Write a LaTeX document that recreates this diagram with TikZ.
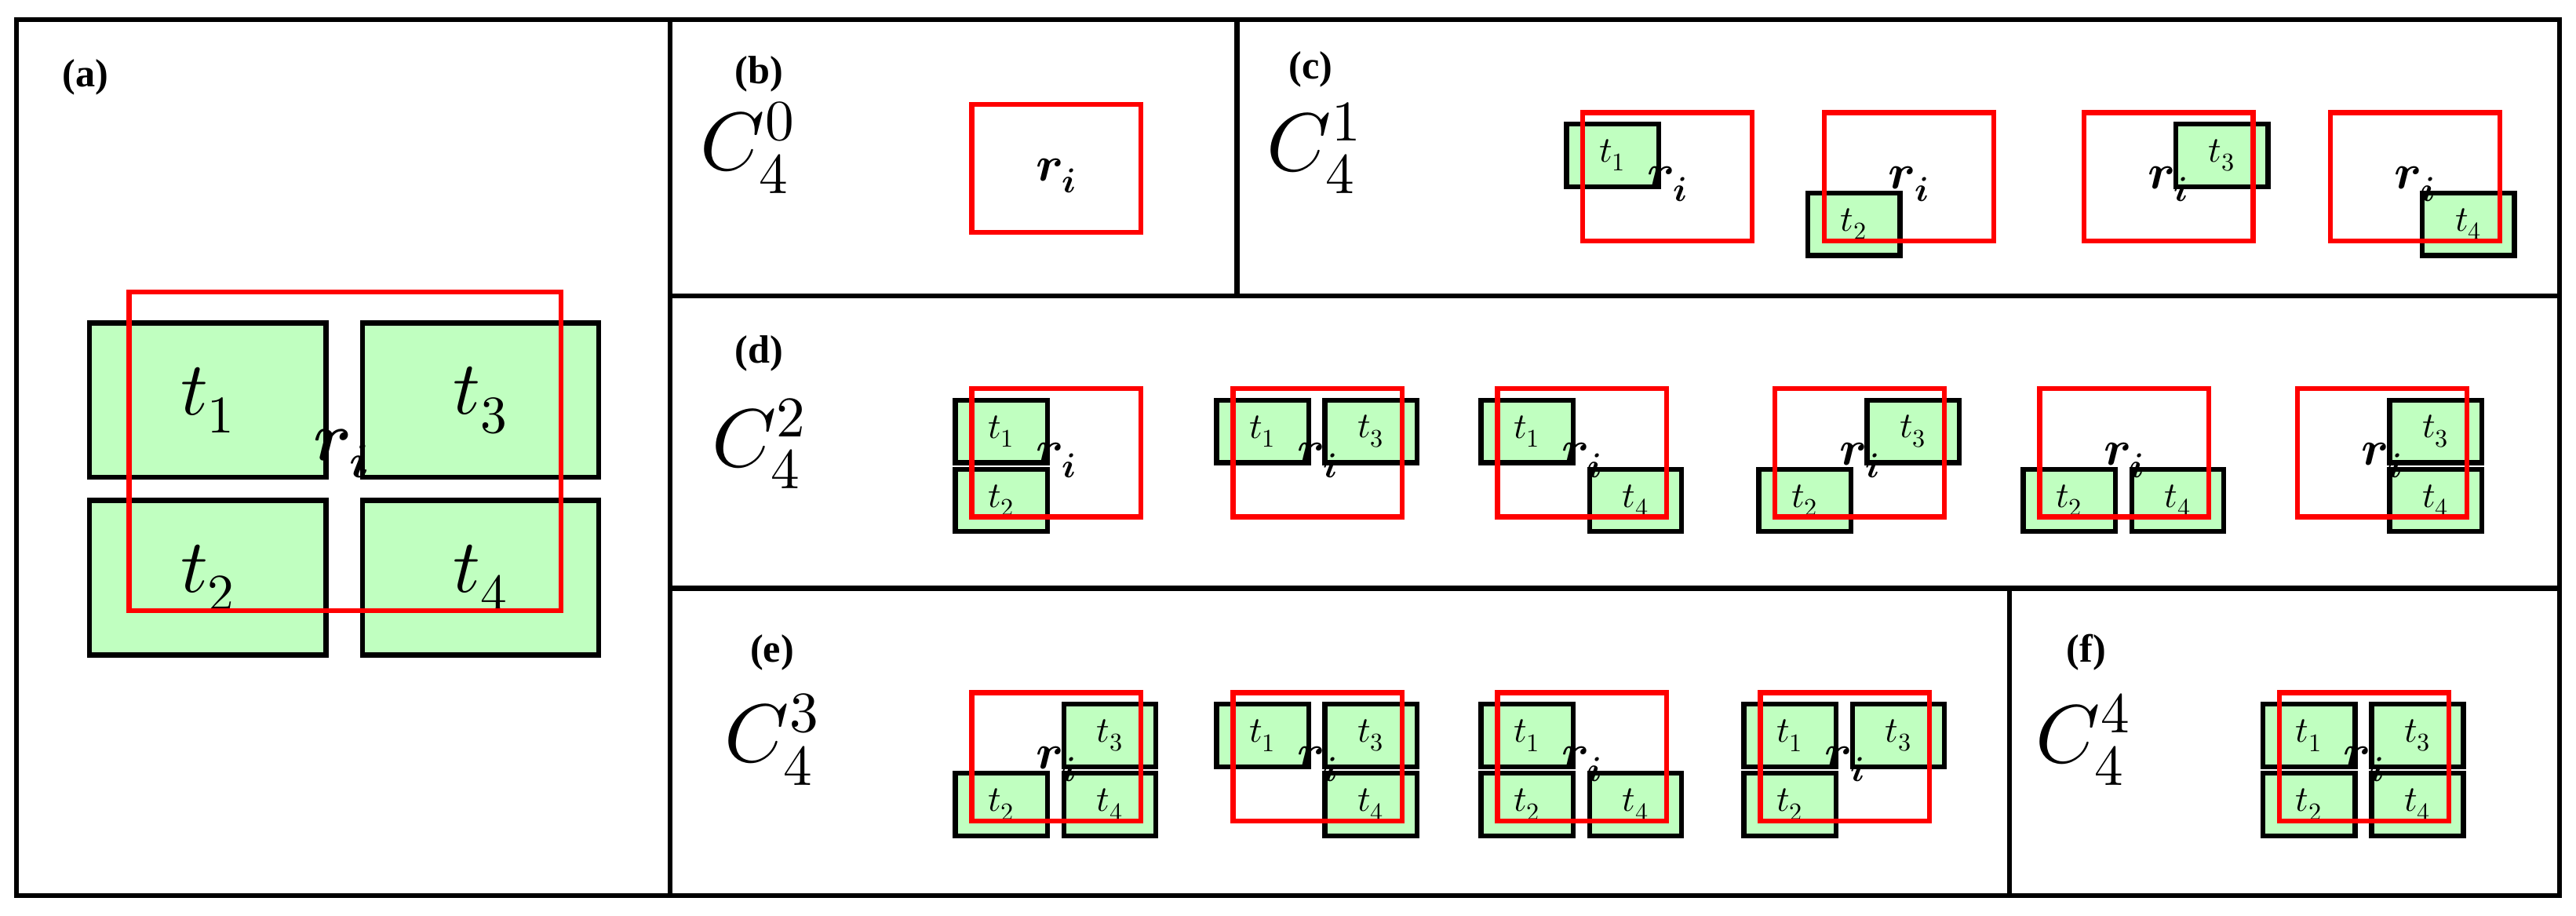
\documentclass[tikz,border=0pt]{standalone}
\usepackage{fontspec}
\usepackage{unicode-math}
\setmainfont{Liberation Serif}
\setmathfont{Latin Modern Math}
\begin{document}
\begin{tikzpicture}[x=1pt,y=-1pt,
  frame/.style={line width=3pt},
  tile/.style={draw=black,line width=3pt,fill={rgb,255:red,192;green,255;blue,192},anchor=north west,minimum width=56pt,minimum height=38pt,inner sep=0pt,font=\fontsize{22}{26}\selectfont},
  bigtile/.style={tile,minimum width=144pt,minimum height=94pt,font=\fontsize{46}{52}\selectfont},
  red/.style={draw={rgb,255:red,255;green,0;blue,0},line width=3pt,anchor=north west,minimum width=103pt,minimum height=78pt,inner sep=0pt},
  ri/.style={font=\fontsize{30}{34}\selectfont,inner sep=0pt},
  lab/.style={font=\fontsize{24}{28}\selectfont\bfseries,inner sep=0pt},
  cc/.style={font=\fontsize{50}{58}\selectfont,inner sep=0pt}]
\useasboundingbox (0,0) rectangle (1568,557);
% frames
\draw[frame] (10,12) rectangle (1558,545);
\draw[frame] (408,12) -- (408,545);
\draw[frame] (408,180) -- (1558,180);
\draw[frame] (408,358) -- (1558,358);
\draw[frame] (753,12) -- (753,180);
\draw[frame] (1223,358) -- (1223,545);
\newcommand\RI{$\symbfit{r}_{\symbfit{i}}$}
% (a)
\node[lab] (la) at (52,47) {(a)};
\node[bigtile] (A1) at (53,195) {$t_1$};
\node[bigtile] (A3) at (219,195) {$t_3$};
\node[bigtile] (A2) at (53,303) {$t_2$};
\node[bigtile] (A4) at (219,303) {$t_4$};
\node[red,minimum width=263pt,minimum height=194pt] (RA) at (77,176) {};
\node[ri,font=\fontsize{42}{48}\selectfont] (riA) at (208,276) {\RI};
% helpers
\newcommand\Tone[3]{\node[tile] (#1a) at (#2-10,#3+7) {$t_1$};}
\newcommand\Tthree[3]{\node[tile] (#1c) at (#2+56,#3+7) {$t_3$};}
\newcommand\Ttwo[3]{\node[tile] (#1b) at (#2-10,#3+49) {$t_2$};}
\newcommand\Tfour[3]{\node[tile] (#1d) at (#2+56,#3+49) {$t_4$};}
\newcommand\Rbox[3]{\node[red] (#1) at (#2,#3) {}; \node[ri] (#1ri) at (#2+53,#3+45) {\RI};}
% (b)
\node[lab] (lb) at (462,45) {(b)};
\node[cc] (Cb) at (455,90) {$C_4^0$};
\Rbox{b1}{590}{62}
% (c)
\node[lab] (lc) at (798,42) {(c)};
\node[cc] (Cc) at (800,90) {$C_4^1$};
\Tone{c1}{962}{67}\Rbox{c1}{962}{67}
\Ttwo{c2}{1109}{67}\Rbox{c2}{1109}{67}
\Tthree{c3}{1267}{67}\Rbox{c3}{1267}{67}
\Tfour{c4}{1417}{67}\Rbox{c4}{1417}{67}
% (d)
\node[lab] (ld) at (462,215) {(d)};
\node[cc] (Cd) at (462,270) {$C_4^2$};
\Tone{d1}{590}{235}\Ttwo{d1}{590}{235}\Rbox{d1}{590}{235}
\Tone{d2}{749}{235}\Tthree{d2}{749}{235}\Rbox{d2}{749}{235}
\Tone{d3}{910}{235}\Tfour{d3}{910}{235}\Rbox{d3}{910}{235}
\Ttwo{d4}{1079}{235}\Tthree{d4}{1079}{235}\Rbox{d4}{1079}{235}
\Ttwo{d5}{1240}{235}\Tfour{d5}{1240}{235}\Rbox{d5}{1240}{235}
\Tthree{d6}{1397}{235}\Tfour{d6}{1397}{235}\Rbox{d6}{1397}{235}
% (e)
\node[lab] (le) at (470,397) {(e)};
\node[cc] (Ce) at (470,450) {$C_4^3$};
\Ttwo{e1}{590}{420}\Tthree{e1}{590}{420}\Tfour{e1}{590}{420}\Rbox{e1}{590}{420}
\Tone{e2}{749}{420}\Tthree{e2}{749}{420}\Tfour{e2}{749}{420}\Rbox{e2}{749}{420}
\Tone{e3}{910}{420}\Ttwo{e3}{910}{420}\Tfour{e3}{910}{420}\Rbox{e3}{910}{420}
\Tone{e4}{1070}{420}\Ttwo{e4}{1070}{420}\Tthree{e4}{1070}{420}\Rbox{e4}{1070}{420}
% (f)
\node[lab] (lf) at (1270,397) {(f)};
\node[cc] (Cf) at (1268,450) {$C_4^4$};
\Tone{f1}{1386}{420}\Ttwo{f1}{1386}{420}\Tthree{f1}{1386}{420}\Tfour{f1}{1386}{420}\Rbox{f1}{1386}{420}
\end{tikzpicture}
\end{document}
